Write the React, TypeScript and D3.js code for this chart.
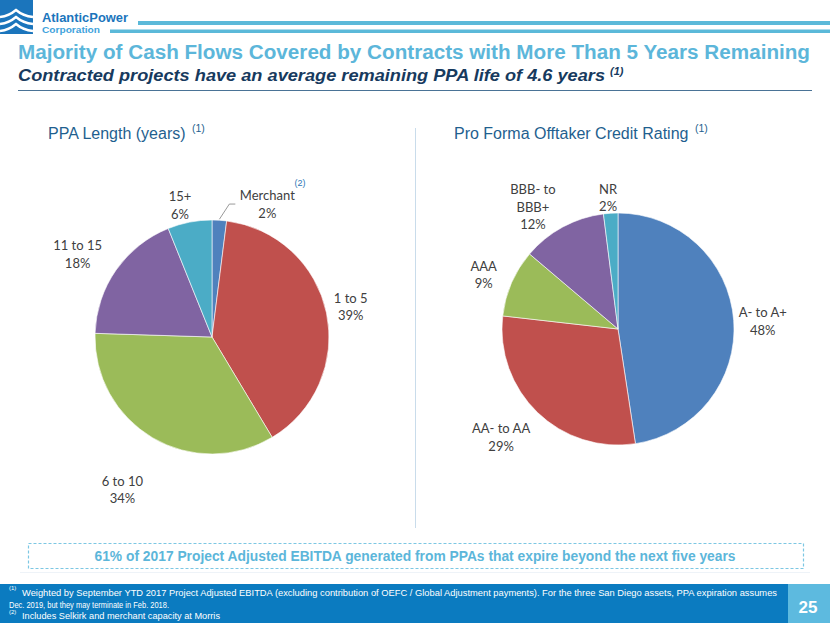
import React from "react";
import * as d3 from "d3";

// ---------- DATA ----------
const ppaCategories: string[][] = [["Merchant"], ["1 to 5"], ["6 to 10"], ["11 to 15"], ["15+"]];
const ppaValues: number[] = [2.0, 39.4, 34.1, 18.4, 6.1];

const ratingCategories: string[][] = [["A- to A+"], ["AA- to AA"], ["AAA"], ["BBB- to", "BBB+"], ["NR"]];
const ratingValues: number[] = [47.6, 29.2, 9.4, 11.8, 2.0];

const sliceColors: string[] = ["#4F81BD", "#C0504D", "#9BBB59", "#8064A2", "#4BACC6"];

// label layout (distance from centre, angle offset in degrees from slice mid-angle)
const ppaLabelDist: number[] = [144, 142, 177, 158, 136];
const ppaLabelAngleOffset: number[] = [19, -0.6, 0, -3.2, -2.6];
const ratingLabelDist: number[] = [145, 159, 145, 149, 132];
const ratingLabelAngleOffset: number[] = [1.1, 3.4, -1.3, -6.4, -0.7];

const titleText = "Majority of Cash Flows Covered by Contracts with More Than 5 Years Remaining";
const subtitleText = "Contracted projects have an average remaining PPA life of 4.6 years";
const calloutText = "61% of 2017 Project Adjusted EBITDA generated from PPAs that expire beyond the next five years";
const footnote1a = "Weighted by September YTD 2017 Project Adjusted EBITDA (excluding contribution of OEFC / Global Adjustment payments).  For the three San Diego assets, PPA expiration assumes";
const footnote1b = "Dec. 2019, but they may terminate in Feb. 2018.";
const footnote2 = "Includes Selkirk and merchant capacity at Morris";

const LABEL_FONT = "Lato, 'Open Sans', sans-serif";
const ARIAL = "'Liberation Sans', Arial, sans-serif";

type PieProps = {
  cx: number;
  cy: number;
  r: number;
  values: number[];
  cats: string[][];
  dist: number[];
  angOff: number[];
  leaderIndex?: number;
};

function Pie({ cx, cy, r, values, cats, dist, angOff, leaderIndex }: PieProps) {
  const pie = d3.pie<number>().sort(null).value((d) => d).startAngle(0).endAngle(2 * Math.PI);
  const arcs = pie(values);
  const arc = d3.arc<d3.PieArcDatum<number>>().innerRadius(0).outerRadius(r);
  const lh = 17.5;
  const polar = (a: number, d: number): [number, number] => [cx + d * Math.sin(a), cy - d * Math.cos(a)];
  return (
    <g>
      {arcs.map((a, i) => (
        <path
          key={"s" + i}
          d={arc(a) as string}
          transform={`translate(${cx},${cy})`}
          fill={sliceColors[i]}
          stroke="#ffffff"
          strokeWidth={0.6}
        />
      ))}
      {arcs.map((a, i) => {
        const mid = (a.startAngle + a.endAngle) / 2;
        const ang = mid + (angOff[i] * Math.PI) / 180;
        const [lx, ly] = polar(ang, dist[i]);
        const lines = [...cats[i], `${Math.round(values[i])}%`];
        const n = lines.length;
        let leader: React.ReactNode = null;
        if (leaderIndex === i) {
          const [px, py] = polar(mid, r + 1);
          const w = 56;
          const ex = lx - w / 2 - 4;
          leader = (
            <polyline
              points={`${px},${py} ${ex - 6},${ly} ${ex},${ly}`}
              fill="none"
              stroke="#7f7f7f"
              strokeWidth={0.8}
            />
          );
        }
        return (
          <g key={"l" + i}>
            {leader}
            <text
              x={lx}
              y={ly}
              textAnchor="middle"
              fontFamily={LABEL_FONT}
              fontSize={13}
              fill="#404040"
            >
              {lines.map((t, j) => (
                <tspan key={j} x={lx} y={ly + (j - (n - 1) / 2) * lh} dominantBaseline="central">
                  {t}
                </tspan>
              ))}
            </text>
          </g>
        );
      })}
    </g>
  );
}

export default function App() {
  const W = 830;
  const H = 623;
  return (
    <svg
      width={W}
      height={H}
      viewBox={`0 0 ${W} ${H}`}
      style={{ position: "absolute", left: 0, top: 0, display: "block", background: "#fff" }}
    >
      <rect x={0} y={0} width={W} height={H} fill="#ffffff" />

      {/* Logo */}
      <g>
        <rect x={0} y={0} width={33} height={34} fill="#1B75BC" />
        {[14, 21, 28].map((yy, k) => (
          <path
            key={k}
            d={`M0 ${yy + 3} Q9 ${yy + 2} 16 ${yy - 4} Q23 ${yy + 2} 33 ${yy + 3}`}
            fill="none"
            stroke="#ffffff"
            strokeWidth={2.4}
          />
        ))}
        <text x={42} y={21.5} fontFamily={ARIAL} fontWeight="bold" fontSize={13} fill="#1B75BC" textLength={86} lengthAdjust="spacingAndGlyphs">
          AtlanticPower
        </text>
        <text x={42} y={33} fontFamily={ARIAL} fontWeight="bold" fontSize={8.5} fill="#3FA3DC" textLength={58} lengthAdjust="spacingAndGlyphs">
          Corporation
        </text>
        <rect x={138} y={21} width={W - 138} height={4} fill="#5BB9D9" />
        <rect x={110} y={29.5} width={W - 110} height={3.5} fill="#5BB9D9" />
      </g>

      {/* Title */}
      <text x={18} y={59} fontFamily={ARIAL} fontWeight="bold" fontSize={20} fill="#5CB6DA" textLength={792} lengthAdjust="spacingAndGlyphs">
        {titleText}
      </text>
      <text x={18} y={81} fontFamily={ARIAL} fontWeight="bold" fontStyle="italic" fontSize={17} fill="#173A5E" textLength={587} lengthAdjust="spacingAndGlyphs">
        {subtitleText}
      </text>
      <text x={610} y={75} fontFamily={ARIAL} fontWeight="bold" fontStyle="italic" fontSize={11} fill="#173A5E">
        (1)
      </text>
      <line x1={18} x2={812} y1={90.5} y2={90.5} stroke="#4A7396" strokeWidth={1} />

      {/* Section headings */}
      <text x={48} y={139} fontFamily={ARIAL} fontSize={16} fill="#1F5F8F">
        PPA Length (years)
      </text>
      <text x={192} y={132} fontFamily={ARIAL} fontSize={10.5} fill="#1F5F8F">
        (1)
      </text>
      <text x={454} y={139} fontFamily={ARIAL} fontSize={16} fill="#1F5F8F">
        Pro Forma Offtaker Credit Rating
      </text>
      <text x={695} y={132} fontFamily={ARIAL} fontSize={10.5} fill="#1F5F8F">
        (1)
      </text>

      {/* divider */}
      <line x1={415.5} x2={415.5} y1={128} y2={528} stroke="#C9DCEB" strokeWidth={1} />

      {/* Pies */}
      <Pie
        cx={212}
        cy={337}
        r={117}
        values={ppaValues}
        cats={ppaCategories}
        dist={ppaLabelDist}
        angOff={ppaLabelAngleOffset}
        leaderIndex={0}
      />
      <text x={300} y={186} textAnchor="middle" fontFamily={ARIAL} fontSize={9} fill="#2E75B6">
        (2)
      </text>
      <Pie
        cx={618}
        cy={329}
        r={116}
        values={ratingValues}
        cats={ratingCategories}
        dist={ratingLabelDist}
        angOff={ratingLabelAngleOffset}
      />

      {/* Callout box */}
      <rect x={28.5} y={543.5} width={775} height={25} fill="none" stroke="#7CC7E3" strokeWidth={1.2} strokeDasharray="3,2" />
      <text x={415} y={561} textAnchor="middle" fontFamily={ARIAL} fontWeight="bold" fontSize={14} fill="#5CB6DA" textLength={641} lengthAdjust="spacingAndGlyphs">
        {calloutText}
      </text>

      {/* faint rule above footer */}
      <line x1={20} x2={810} y1={572.5} y2={572.5} stroke="#EEF3F8" strokeWidth={1} />

      {/* Footer */}
      <rect x={0} y={584} width={788} height={H - 584} fill="#0B7BC0" />
      <rect x={788} y={584} width={W - 788} height={H - 584} fill="#5DBADF" />
      <text x={9} y={590} fontFamily={ARIAL} fontSize={6} fill="#ffffff">(1)</text>
      <text x={22} y={596} fontFamily={ARIAL} fontSize={9} fill="#ffffff" textLength={755} lengthAdjust="spacingAndGlyphs">
        {footnote1a}
      </text>
      <text x={9} y={608} fontFamily={ARIAL} fontSize={9} fill="#ffffff" textLength={160} lengthAdjust="spacingAndGlyphs">
        {footnote1b}
      </text>
      <text x={9} y={614} fontFamily={ARIAL} fontSize={6} fill="#ffffff">(2)</text>
      <text x={22} y={619} fontFamily={ARIAL} fontSize={9} fill="#ffffff" textLength={198} lengthAdjust="spacingAndGlyphs">
        {footnote2}
      </text>
      <text x={808} y={612.5} textAnchor="middle" fontFamily={ARIAL} fontWeight="bold" fontSize={17} fill="#ffffff">
        25
      </text>
    </svg>
  );
}
